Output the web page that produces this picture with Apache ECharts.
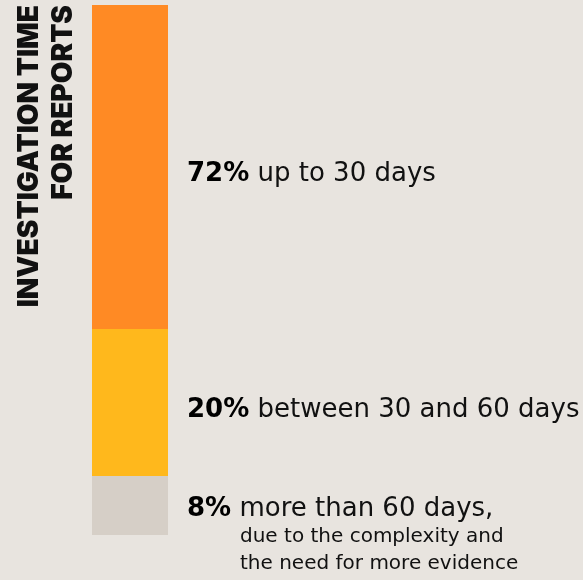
<!DOCTYPE html>
<html><head><meta charset="utf-8">
<script src="https://cdn.jsdelivr.net/npm/echarts@6/dist/echarts.min.js"></script>
<style>html,body{margin:0;padding:0;background:#e8e4df}#c{width:583px;height:580px}</style>
</head><body><div id="c"></div>
<script>
const categories = ['Investigation time for reports'];
const titleLines = ['INVESTIGATION TIME', 'FOR REPORTS'];
// segments, top to bottom
const segmentNames = ['up to 30 days', 'between 30 and 60 days', 'more than 60 days'];
const percentages = [72, 20, 8];
const mainTexts = ['up to 30 days', 'between 30 and 60 days', 'more than 60 days,'];
const subTexts = [[], [], ['due to the complexity and', 'the need for more evidence']];
const colors = ['#ff8a24', '#ffb81c', '#d6cfc7'];

const BODY = 'DejaVu Sans';
const chart = echarts.init(document.getElementById('c'));

const rich = {
  p: { fontFamily: BODY, fontSize: 26, fontWeight: 'bold', color: '#000', lineHeight: 28 },
  t: { fontFamily: BODY, fontSize: 26, fontWeight: 'normal', color: '#111', lineHeight: 28 },
  s: { fontFamily: BODY, fontSize: 20, fontWeight: 'normal', color: '#111', padding: [0, 0, 0, 53], lineHeight: 27 }
};

// stack from bottom: reverse order
const order = [2, 1, 0];
const series = order.map(i => ({
  name: segmentNames[i],
  type: 'bar',
  stack: 'total',
  barWidth: '100%',
  clip: true,
  data: [percentages[i]],
  itemStyle: { color: colors[i] },
  label: {
    show: true,
    position: 'right',
    distance: 19,
    offset: subTexts[i].length ? [0, 30.5] : [0, 7.5],
    formatter: () => {
      let s = `{p|${percentages[i]}%}{t| ${mainTexts[i]}}`;
      subTexts[i].forEach(l => { s += `\n{s|${l}}`; });
      return s;
    },
    rich: rich
  }
}));

chart.setOption({
  backgroundColor: '#e8e4df',
  animation: false,
  grid: { left: 92, right: 415, top: 5, bottom: 45 },
  xAxis: { type: 'category', data: categories, show: false },
  yAxis: { type: 'value', min: 0, max: Math.max(...percentages), show: false },
  series: series,
  graphic: [
    { type: 'text', x: 29.5, y: 5, rotation: Math.PI / 2,
      style: { text: titleLines[0], fontFamily: 'Inter', fontWeight: 900, fontSize: 28, fill: '#111', align: 'right', verticalAlign: 'middle' } },
    { type: 'text', x: 63.5, y: 5, rotation: Math.PI / 2,
      style: { text: titleLines[1], fontFamily: 'Inter', fontWeight: 900, fontSize: 28, fill: '#111', align: 'right', verticalAlign: 'middle' } }
  ]
});
</script></body></html>
